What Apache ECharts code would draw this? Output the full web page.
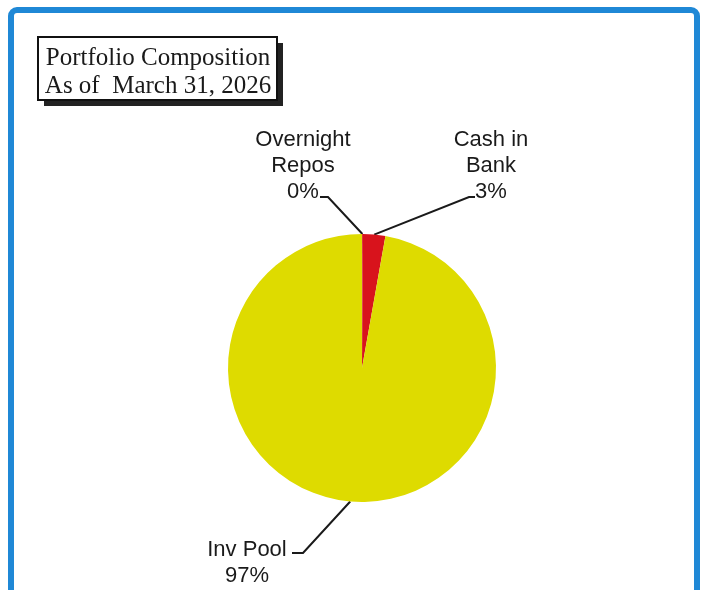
<!DOCTYPE html>
<html lang="en">
<head>
    <meta charset="UTF-8">
    <title>Portfolio Composition</title>
    <style>
        html, body { margin: 0; padding: 0; background: #fff; }
        #chart { width: 705px; height: 590px; }
    </style>
</head>
<body>
    <div id="chart"></div>
    <script src="https://cdn.jsdelivr.net/npm/echarts@6/dist/echarts.min.js"></script>
    <script>
        // data
        const names = ['Overnight\nRepos', 'Cash in\nBank', 'Inv Pool']
        const values = [0.1, 2.7, 97.2]
        const colors = ['#d8131c', '#d8131c', '#dedb00']

        // where each label sits and how its leader line bends
        const labelSpots = [
            { x: 303, y: 166, line: [[25, 31], [17, 31]] },
            { x: 491, y: 166, line: [[-22, 31], [-16, 31]] },
            { x: 247, y: 563, line: [[56, -10], [45, -10]] }
        ]

        const chart = echarts.init(document.querySelector('#chart'))

        const option = {
            animation: false,
            graphic: [
                {
                    type: 'rect',
                    shape: { x: 11, y: 10, width: 686, height: 600, r: 6 },
                    style: { fill: 'none', stroke: '#1f88d6', lineWidth: 6 }
                },
                {
                    type: 'rect',
                    shape: { x: 44, y: 43, width: 239, height: 63 },
                    style: { fill: '#222' }
                },
                {
                    type: 'rect',
                    shape: { x: 38, y: 37, width: 239, height: 63 },
                    style: { fill: '#fff', stroke: '#111', lineWidth: 2 }
                },
                {
                    type: 'text',
                    x: 158,
                    y: 72,
                    style: {
                        text: 'Portfolio Composition\nAs of  March 31, 2026',
                        font: '25px "Liberation Serif"',
                        lineHeight: 28,
                        fill: '#1a1a1a',
                        align: 'center',
                        verticalAlign: 'middle'
                    }
                }
            ],
            series: [{
                type: 'pie',
                center: [362, 368],
                radius: 134,
                startAngle: 90,
                clockwise: true,
                percentPrecision: 0,
                minShowLabelAngle: 0,
                avoidLabelOverlap: false,
                emphasis: { disabled: true },
                itemStyle: { borderWidth: 0 },
                label: {
                    show: true,
                    formatter: '{b}\n{d}%',
                    fontFamily: 'Liberation Sans',
                    fontSize: 22,
                    lineHeight: 26,
                    color: '#1a1a1a',
                    align: 'center'
                },
                labelLine: {
                    show: true,
                    lineStyle: { color: '#1a1a1a', width: 2 }
                },
                labelLayout: function (params) {
                    const spot = labelSpots[params.dataIndex]
                    const start = params.labelLinePoints ? params.labelLinePoints[0] : [spot.x, spot.y]
                    return {
                        x: spot.x,
                        y: spot.y,
                        align: 'center',
                        verticalAlign: 'middle',
                        labelLinePoints: [
                            start,
                            [spot.x + spot.line[0][0], spot.y + spot.line[0][1]],
                            [spot.x + spot.line[1][0], spot.y + spot.line[1][1]]
                        ]
                    }
                },
                data: names.map(function (n, i) {
                    return { name: n, value: values[i], itemStyle: { color: colors[i] } }
                })
            }]
        }

        chart.setOption(option)
    </script>
</body>
</html>
